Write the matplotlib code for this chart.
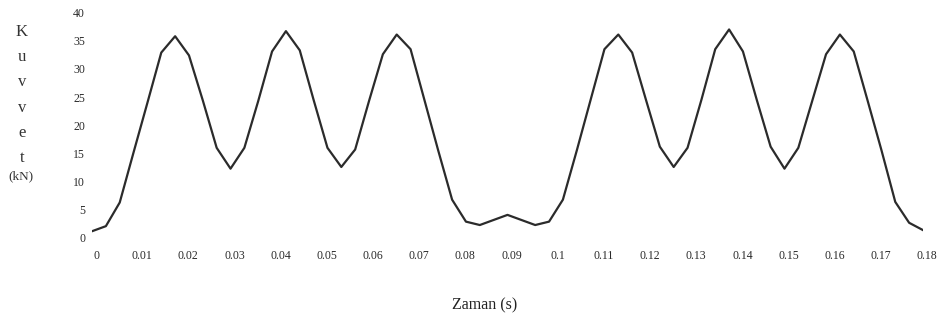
import matplotlib
matplotlib.use("Agg")
import matplotlib.pyplot as plt
from matplotlib.transforms import ScaledTranslation
import numpy as np

# force readings every 3 ms
time_step = 0.003
force_kn = [1.2, 2.1, 6.3, 15.2, 24.0, 32.9, 35.8, 32.4, 24.4, 16.0,
            12.3, 16.0, 24.3, 33.1, 36.7, 33.3, 24.5, 16.0, 12.6, 15.7,
            24.3, 32.6, 36.1, 33.5, 24.5, 15.5, 6.8, 2.9, 2.3, 3.2,
            4.1, 3.2, 2.3, 2.9, 6.8, 15.5, 24.5, 33.5, 36.1, 32.9,
            24.5, 16.2, 12.6, 16.0, 24.5, 33.5, 37.0, 33.1, 24.5, 16.2,
            12.3, 16.0, 24.3, 32.6, 36.1, 33.1, 24.4, 15.6, 6.4, 2.7,
            1.4]
time_s = [round(i * time_step, 3) for i in range(len(force_kn))]

x_ticks = [0, 0.01, 0.02, 0.03, 0.04, 0.05, 0.06, 0.07, 0.08, 0.09,
           0.1, 0.11, 0.12, 0.13, 0.14, 0.15, 0.16, 0.17, 0.18]
x_labels = ["0", "0.01", "0.02", "0.03", "0.04", "0.05", "0.06", "0.07",
            "0.08", "0.09", "0.1", "0.11", "0.12", "0.13", "0.14", "0.15",
            "0.16", "0.17", "0.18"]
y_ticks = [0, 5, 10, 15, 20, 25, 30, 35, 40]

plt.rcParams['font.family'] = ['Liberation Serif', 'DejaVu Serif']

fig = plt.figure(figsize=(9.42, 3.22), dpi=100)
ax = fig.add_axes([0.0977, 0.2609, 0.8821, 0.7001])

ax.plot(time_s, force_kn, color='#2b2b2b', linewidth=1.6)
ax.set_xlim(0, 0.18)
ax.set_ylim(0, 40)

ax.set_xticks(x_ticks)
ax.set_xticklabels(x_labels)
ax.set_yticks(y_ticks)
ax.tick_params(axis='both', length=0, labelsize=8.5, colors='#2a2a2a')
ax.tick_params(axis='x', pad=9)
ax.tick_params(axis='y', pad=5)
# labels in the original sit a few pixels right of their data positions
shift = ScaledTranslation(4 / 100, 0, fig.dpi_scale_trans)
for lbl in ax.get_xticklabels():
    lbl.set_transform(lbl.get_transform() + shift)

for s in ax.spines.values():
    s.set_visible(False)

fig.text(22 / 942, 1 - 95 / 322, "K\nu\nv\nv\ne\nt", ha='center', va='center',
         fontsize=12, linespacing=1.78, color='#333333')
fig.text(21 / 942, 1 - 176 / 322, "(kN)", ha='center', va='center',
         fontsize=9.5, color='#333333')
fig.text(485 / 942, 1 - 305 / 322, "Zaman (s)", ha='center', va='center',
         fontsize=11.5, color='#222222')

fig.savefig("out.png", dpi=100)
